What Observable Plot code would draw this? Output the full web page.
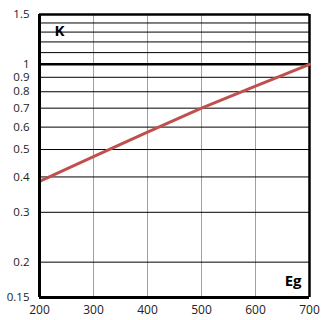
<!DOCTYPE html>
<html><head>
<meta charset="utf-8">
<script src="https://cdn.jsdelivr.net/npm/d3@7"></script>
<script src="https://cdn.jsdelivr.net/npm/@observablehq/plot@0.6"></script>
<style>body{margin:0;background:#fff;} svg{display:block;}</style>
</head><body><div id="chart"></div>
<script>
const eg = [200, 300, 400, 500, 600, 700];
const k = [0.386, 0.472, 0.576, 0.70, 0.837, 1.0];
const yTicks = [0.15, 0.2, 0.3, 0.4, 0.5, 0.6, 0.7, 0.8, 0.9, 1, 1.5];
const yTickLabels = ["0.15", "0.2", "0.3", "0.4", "0.5", "0.6", "0.7", "0.8", "0.9", "1", "1.5"];
const yGrid = [0.2, 0.3, 0.4, 0.5, 0.6, 0.7, 0.8, 0.9, 1.1, 1.2, 1.3, 1.4];
const xTicks = [200, 300, 400, 500, 600, 700];
const xGrid = [300, 400, 500, 600];
const yLabel = "K";
const xLabel = "Eg";

const data = eg.map((x, i) => ({x, y: k[i]}));
const yLab = yTicks.map((v, i) => ({v, t: yTickLabels[i]}));

const chart = Plot.plot({
  width: 322,
  height: 320,
  marginLeft: 39,
  marginRight: 13,
  marginTop: 14,
  marginBottom: 23,
  style: {fontFamily: "'Open Sans', 'Liberation Sans', sans-serif", fontSize: "12px", color: "#222"},
  x: {domain: [200, 700], axis: null},
  y: {type: "log", domain: [0.15, 1.5], axis: null},
  marks: [
    Plot.ruleX(xGrid, {stroke: "#a0a0a0", strokeWidth: 1}),
    Plot.ruleY(yGrid, {stroke: "#000", strokeWidth: 1}),
    Plot.ruleY([1], {stroke: "#000", strokeWidth: 2.5}),
    Plot.ruleY([1.5], {stroke: "#000", strokeWidth: 2.5}),
    Plot.ruleX([700], {stroke: "#000", strokeWidth: 2.5}),
    Plot.line(data, {x: "x", y: "y", stroke: "#C0504D", strokeWidth: 3}),
    Plot.ruleX([200], {stroke: "#000", strokeWidth: 3}),
    Plot.ruleY([0.15], {stroke: "#000", strokeWidth: 3}),
    Plot.text(yLab, {y: "v", text: "t", frameAnchor: "left", dx: -10, textAnchor: "end", fontSize: 11.5, fill: "#222"}),
    Plot.text(xTicks, {x: d => d, text: d => String(d), frameAnchor: "bottom", dy: 16, fontSize: 12, fill: "#222"}),
    Plot.text([yLabel], {frameAnchor: "top-left", dx: 15, dy: 11, fontWeight: "bold", fontSize: 15, fill: "#000"}),
    Plot.text([xLabel], {frameAnchor: "bottom-right", dx: -8, dy: -12, fontWeight: "bold", fontSize: 15, fill: "#000"})
  ]
});
document.getElementById("chart").append(chart);
</script>
</body></html>
